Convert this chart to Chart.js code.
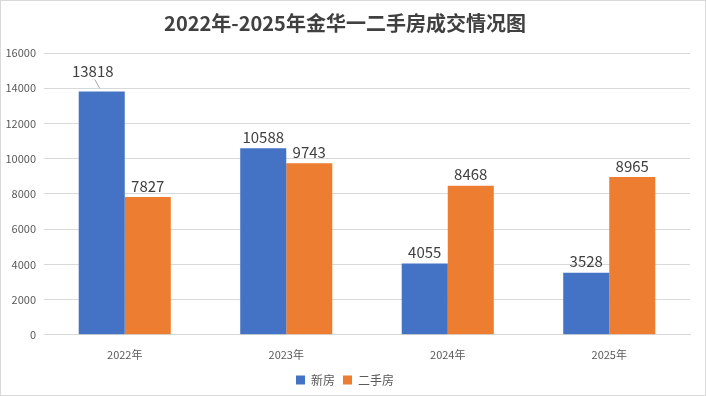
<!DOCTYPE html>
<html><head><meta charset="utf-8">
<script src="https://cdn.jsdelivr.net/npm/chart.js@4/dist/chart.umd.min.js"></script>
<style>html,body{margin:0;padding:0;background:#fff}#wrap{width:706px;height:396px;position:relative}</style>
</head><body><div id="wrap"><canvas id="c" width="706" height="396"></canvas></div>
<script>
const categories = ['2022年', '2023年', '2024年', '2025年'];
const newHouse = [13818, 10588, 4055, 3528];
const secondHand = [7827, 9743, 8468, 8965];
const seriesNames = ['新房', '二手房'];
const titleText = '2022年-2025年金华一二手房成交情况图';

const FONT = "'Noto Sans CJK SC', 'Noto Sans', sans-serif";

const frame = {
  id: 'frame',
  afterDraw(chart) {
    const ctx = chart.ctx;
    ctx.save();
    ctx.strokeStyle = '#d9d9d9';
    ctx.lineWidth = 1;
    ctx.strokeRect(0.5, 0.5, chart.width - 1, chart.height - 1);
    ctx.restore();
  }
};

const labels = {
  id: 'labels',
  afterDatasetsDraw(chart) {
    const ctx = chart.ctx;
    ctx.save();
    ctx.font = '15px ' + FONT;
    ctx.fillStyle = '#404040';
    ctx.textAlign = 'center';
    ctx.textBaseline = 'middle';
    chart.data.datasets.forEach((ds, di) => {
      const meta = chart.getDatasetMeta(di);
      meta.data.forEach((bar, i) => {
        let x = bar.x, y = bar.y - 11;
        if (di === 0 && i === 0) {
          x = bar.x - 9; y = bar.y - 20;
          ctx.strokeStyle = '#a6a6a6';
          ctx.lineWidth = 1;
          ctx.beginPath();
          ctx.moveTo(x + 2, y + 8);
          ctx.lineTo(x + 7, y + 17);
          ctx.stroke();
        }
        ctx.fillText(String(ds.data[i]), x, y);
      });
    });
    ctx.restore();
  }
};

new Chart(document.getElementById('c'), {
  type: 'bar',
  data: {
    labels: categories,
    datasets: [
      { label: seriesNames[0], data: newHouse, backgroundColor: '#4472c4' },
      { label: seriesNames[1], data: secondHand, backgroundColor: '#ed7d31' }
    ]
  },
  options: {
    responsive: false,
    animation: false,
    devicePixelRatio: 1,
    layout: { padding: { left: 0, right: 16, top: 0, bottom: 0 } },
    datasets: { bar: { categoryPercentage: 0.57, barPercentage: 1.0 } },
    plugins: {
      title: {
        display: true, text: titleText, color: '#404040',
        font: { family: FONT, size: 20, weight: 'bold' },
        padding: { top: 11, bottom: 18 }
      },
      legend: {
        position: 'bottom',
        labels: {
          color: '#595959', boxWidth: 9, boxHeight: 9, padding: 8,
          font: { family: FONT, size: 12 }
        }
      },
      tooltip: { enabled: false }
    },
    scales: {
      x: {
        grid: { display: false },
        border: { color: '#d9d9d9' },
        ticks: { color: '#595959', font: { family: FONT, size: 11 }, padding: 5 }
      },
      y: {
        min: 0, max: 16000,
        ticks: { stepSize: 2000, color: '#595959', font: { family: FONT, size: 11 }, padding: 8,
                 callback: v => String(v) },
        grid: { color: '#d9d9d9', tickLength: 0 },
        border: { display: false },
        afterFit(s) { s.width = 44; }
      }
    }
  },
  plugins: [labels, frame]
});
</script></body></html>
